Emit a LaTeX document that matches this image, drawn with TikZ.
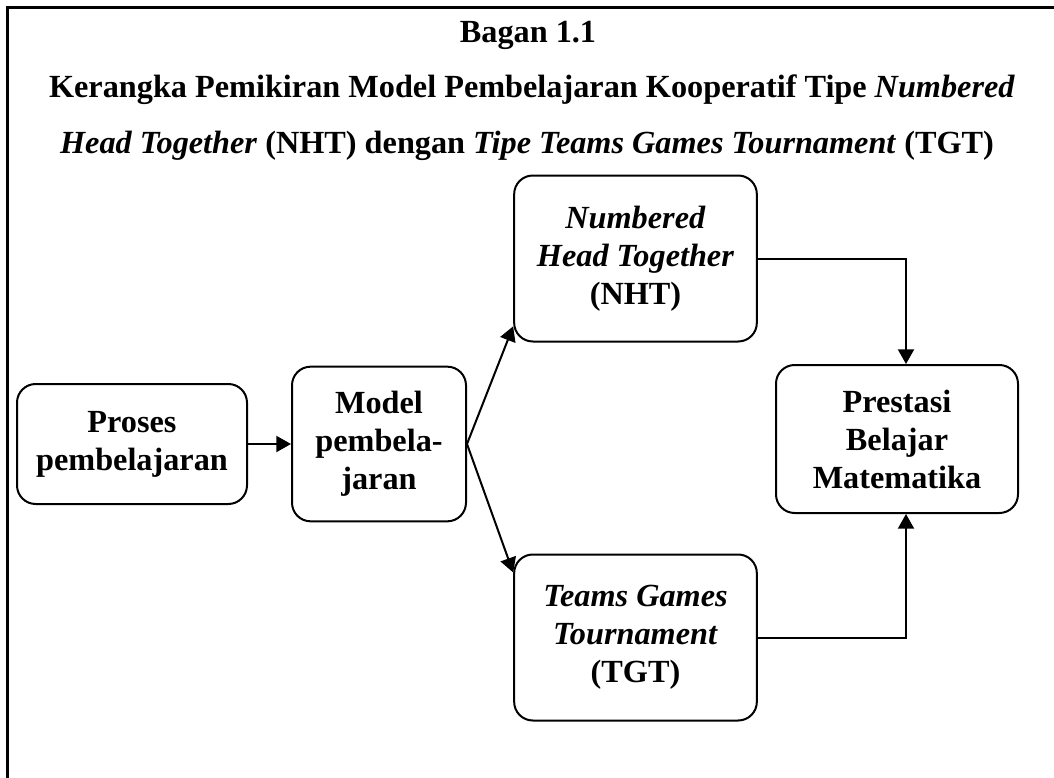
\documentclass[tikz,border=0pt]{standalone}
\usepackage{fontspec}
\setmainfont{Liberation Serif}
\usetikzlibrary{arrows.meta}

\begin{document}
\begin{tikzpicture}[x=0.75pt,y=-0.75pt,
    every node/.append style={font=\fontsize{24.2}{28.5}\selectfont\bfseries},
    blok/.style={draw,line width=1.5pt,rounded corners=14pt,align=center,inner sep=0pt},
    panah/.style={line width=1.5pt,-{Triangle[length=11pt,width=12pt]}}]
    \useasboundingbox (0,0) rectangle (1054,778);
    \draw[line width=2.25pt] (1054,7) -- (7,7) -- (7,778);
    \node[anchor=base] (judul) at (528,42) {Bagan 1.1};
    \node[anchor=base] (judul2) at (532,97) {Kerangka Pemikiran Model Pembelajaran Kooperatif Tipe \textit{Numbered}};
    \node[anchor=base] (judul3) at (527,153) {\textit{Head Together} (NHT) dengan \textit{Tipe Teams Games Tournament} (TGT)};
    \node[blok,minimum width=172.5pt,minimum height=90pt] (proses) at (132,444) {Proses\\pembelajaran};
    \node[blok,minimum width=130.5pt,minimum height=116pt] (model) at (379,444) {Model\\pembela-\\jaran};
    \node[blok,minimum width=182pt,minimum height=124.5pt] (nht) at (635.5,258.5) {\textit{Numbered}\\\textit{Head Together}\\(NHT)};
    \node[blok,minimum width=182pt,minimum height=124.5pt] (tgt) at (635.5,637.5) {\textit{Teams Games}\\\textit{Tournament}\\(TGT)};
    \node[blok,minimum width=181.5pt,minimum height=111pt] (prestasi) at (897,439) {Prestasi\\Belajar\\Matematika};
    \coordinate (sambung) at (906,0);
    \draw[panah] (proses.east) -- (model.west);
    \draw[panah] (model.east) -- (nht.209);
    \draw[panah] (model.east) -- (tgt.152);
    \draw[panah] (nht.east) -| (sambung |- prestasi.north);
    \draw[panah] (tgt.east) -| (sambung |- prestasi.south);
\end{tikzpicture}
\end{document}
